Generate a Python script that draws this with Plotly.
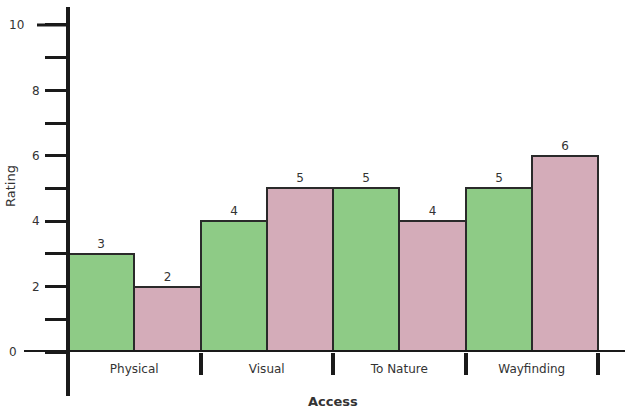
import plotly.graph_objects as go

categories = ["Physical", "Visual", "To Nature", "Wayfinding"]
series_green = [3, 4, 5, 5]
series_pink = [2, 5, 4, 6]
y_tick_vals = [0, 1, 2, 3, 4, 5, 6, 7, 8, 9, 10]
NB = "\u00a0"
y_tick_text = ["0" + NB * 6, "", "2", "", "4", "", "6", "", "8", "", "10" + NB * 4]

W, H = 625, 410
ML, MR, MT, MB = 68, 0, 7, 58
PW = W - ML - MR
PH = H - MT - MB
YMAX = 10.55

FONT = "DejaVu Sans"
TXT = "#333333"
EDGE = "#2a2a2a"
AX = "#1a1a1a"

fig = go.Figure()
fig.add_trace(go.Bar(
    x=categories, y=series_green, name="Series 1",
    marker=dict(color="#8ecb86", line=dict(color=EDGE, width=2)),
    text=[str(v) for v in series_green], textposition="outside",
    textfont=dict(family=FONT, size=12, color=TXT), cliponaxis=False,
))
fig.add_trace(go.Bar(
    x=categories, y=series_pink, name="Series 2",
    marker=dict(color="#d4acb9", line=dict(color=EDGE, width=2)),
    text=[str(v) for v in series_pink], textposition="outside",
    textfont=dict(family=FONT, size=12, color=TXT), cliponaxis=False,
))

fig.update_layout(
    width=W, height=H,
    margin=dict(l=ML, r=MR, t=MT, b=MB, autoexpand=False),
    paper_bgcolor="white", plot_bgcolor="white",
    barmode="group", bargap=0, bargroupgap=0,
    showlegend=False,
    font=dict(family=FONT, size=12, color=TXT),
    xaxis=dict(type="category", categoryorder="array", categoryarray=categories,
               range=[-0.5, 3.5 + 27 / 132.5], showgrid=False, zeroline=False,
               showline=False, ticks="outside", tickson="boundaries",
               ticklen=22, tickwidth=4, tickcolor=AX,
               ticklabelstandoff=8,
               tickfont=dict(family=FONT, size=12, color=TXT)),
    yaxis=dict(range=[0, YMAX], showgrid=False, zeroline=False, showline=False,
               ticks="outside", tickcolor=AX, tickmode="array",
               tickvals=y_tick_vals, ticktext=y_tick_text,
               ticklen=22, tickwidth=3, ticklabelstandoff=3,
               tickfont=dict(family=FONT, size=12, color=TXT)),
)

# axis lines
fig.add_shape(type="line", xref="paper", yref="y", x0=(24 - ML) / PW, x1=1, y0=0, y1=0,
              line=dict(color=AX, width=4), layer="above")
fig.add_shape(type="line", xref="paper", yref="paper", x0=0, x1=0,
              y0=-44 / PH, y1=1, line=dict(color=AX, width=4), layer="above")
# longer top tick
fig.add_shape(type="line", xref="paper", yref="y", x0=(37 - ML) / PW, x1=0, y0=10, y1=10,
              line=dict(color=AX, width=3), layer="above")

fig.add_annotation(text="<b>Access</b>", xref="x", yref="paper", x=1.5,
                   y=(352 - 401) / PH, showarrow=False, yanchor="middle",
                   font=dict(family=FONT, size=13, color=TXT))
fig.add_annotation(text="Rating", xref="paper", yref="paper", x=(10 - ML) / PW,
                   y=(352 - 186) / PH, showarrow=False, textangle=-90,
                   xanchor="center", yanchor="middle",
                   font=dict(family=FONT, size=13, color=TXT))

fig.write_html("out.html", config={"displayModeBar": False},
               post_script="document.body.style.margin='0';")
